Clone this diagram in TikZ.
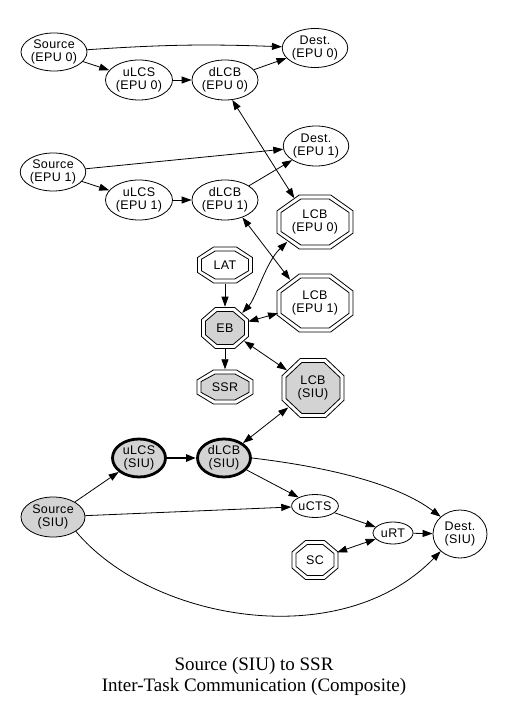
\documentclass[tikz,border=0pt]{standalone}
\usepackage{fontspec}
\newfontfamily\nf[LetterSpace=3]{Liberation Sans}
\newfontfamily\tf{Liberation Serif}
\usetikzlibrary{shapes.geometric,arrows.meta}
\definecolor{lg}{RGB}{211,211,211}
\tikzset{
  base/.style={ellipse, inner sep=0pt, align=center, font={\nf\fontsize{12.5}{13.5}\selectfont}},
  ell/.style={base, draw, line width=0.8pt},
  thickell/.style={base, draw, line width=2.8pt, fill=lg},
  tip/.style={Triangle[length=10pt,width=7pt]},
  arr/.style={line width=0.8pt, -{Triangle[length=10pt,width=7pt]}},
  barr/.style={line width=0.8pt, {Triangle[length=10pt,width=7pt]}-{Triangle[length=10pt,width=7pt]}},
  octline/.style={line width=0.8pt}
}
\newcommand\octnode[6]{% name, x,y, half width, half height, inner fill, text
  \draw[octline,fill=white,shift={(#2)}] (#3,0.4142*#4) -- (0.4142*#3,#4) -- (-0.4142*#3,#4) -- (-#3,0.4142*#4) -- (-#3,-0.4142*#4) -- (-0.4142*#3,-#4) -- (0.4142*#3,-#4) -- (#3,-0.4142*#4) -- cycle;
  \pgfmathsetmacro\ihw{#3-4}\pgfmathsetmacro\ihh{#4-4}
  \draw[octline,fill=#5,shift={(#2)}] (\ihw,0.4142*\ihh) -- (0.4142*\ihw,\ihh) -- (-0.4142*\ihw,\ihh) -- (-\ihw,0.4142*\ihh) -- (-\ihw,-0.4142*\ihh) -- (-0.4142*\ihw,-\ihh) -- (0.4142*\ihw,-\ihh) -- (\ihw,-0.4142*\ihh) -- cycle;
  \node[base, minimum width={2.06*#3}, minimum height={2.06*#4}] (#1) at (#2) {#6};
}
\begin{document}
\begin{tikzpicture}[x=1pt,y=-1pt]
\fill[white] (0,0) rectangle (505,708);
\useasboundingbox (0,0) rectangle (505,708);

% ellipses, EPU 0 / EPU 1
\node[ell, minimum width=66pt, minimum height=38pt] (srcE0) at (54,52) {Source\\(EPU 0)};
\node[ell, minimum width=65pt, minimum height=39pt] (dstE0) at (315,48) {Dest.\\(EPU 0)};
\node[ell, minimum width=67pt, minimum height=40pt] (ulcsE0) at (139,80) {uLCS\\(EPU 0)};
\node[ell, minimum width=66pt, minimum height=40pt] (dlcbE0) at (225,80) {dLCB\\(EPU 0)};
\node[ell, minimum width=65pt, minimum height=40pt] (dstE1) at (316,146) {Dest.\\(EPU 1)};
\node[ell, minimum width=64pt, minimum height=38pt] (srcE1) at (53,172) {Source\\(EPU 1)};
\node[ell, minimum width=67pt, minimum height=40pt] (ulcsE1) at (139,200) {uLCS\\(EPU 1)};
\node[ell, minimum width=66pt, minimum height=40pt] (dlcbE1) at (225,200) {dLCB\\(EPU 1)};

% octagons
\octnode{lcbE0}{315,222}{38}{27}{white}{LCB\\(EPU 0)}
\octnode{lat}{225,265}{27.5}{18}{white}{LAT}
\octnode{lcbE1}{315,303}{38}{29}{white}{LCB\\(EPU 1)}
\octnode{eb}{225,328}{23.5}{20.5}{lg}{EB}
\octnode{ssr}{225,387}{28}{17}{lg}{SSR}
\octnode{lcbSIU}{313,388}{31}{29.5}{lg}{LCB\\(SIU)}
\octnode{sc}{315,560}{23}{19.5}{white}{SC}

% SIU part
\node[thickell, minimum width=53pt, minimum height=38pt] (ulcsSIU) at (139,458) {uLCS\\(SIU)};
\node[thickell, minimum width=53pt, minimum height=38pt] (dlcbSIU) at (224,458) {dLCB\\(SIU)};
\node[ell, fill=lg, minimum width=64pt, minimum height=40pt] (srcSIU) at (53,517) {Source\\(SIU)};
\node[ell, minimum width=46pt, minimum height=23pt] (ucts) at (315,506) {uCTS};
\node[ell, minimum width=40pt, minimum height=22pt] (urt) at (393,533) {uRT};
\node[ell, minimum width=54pt, minimum height=48pt] (dstSIU) at (460,534) {Dest.\\(SIU)};

% title
\node[font={\tf\fontsize{19}{21}\selectfont}, align=center, inner sep=0pt] (title) at (254,676) {Source (SIU) to SSR\\Inter-Task Communication (Composite)};

% edges top
\draw[arr] (srcE0) to[bend left=3] (dstE0);
\draw[arr] (srcE0) -- (ulcsE0);
\draw[arr] (ulcsE0) -- (dlcbE0);
\draw[arr] (dlcbE0) -- (dstE0);
\draw[barr] (dlcbE0.-70) -- (lcbE0.131);
\draw[arr] (srcE1) -- (dstE1);
\draw[arr] (srcE1) -- (ulcsE1);
\draw[arr] (ulcsE1) -- (dlcbE1);
\draw[arr] (dlcbE1) -- (dstE1);
\draw[barr] (dlcbE1.-45) -- (lcbE1.137);

% middle
\draw[arr] (lat) -- (eb);
\draw[arr] (eb) -- (ssr);
\draw[barr] (eb.north east) .. controls (256,298) and (266,262) .. (lcbE0.south west);
\draw[barr] (eb) -- (lcbE1);
\draw[barr] (eb) -- (lcbSIU);
\draw[barr] (lcbSIU) -- (dlcbSIU);

% bottom
\draw[arr] (srcSIU) -- (ulcsSIU);
\draw[line width=2.8pt, -{Triangle[length=10pt,width=7pt]}] (ulcsSIU) -- (dlcbSIU);
\draw[arr] (dlcbSIU) -- (ucts);
\draw[arr] (dlcbSIU.east) .. controls (320,466) and (395,482) .. (dstSIU.north west);
\draw[arr] (srcSIU) -- (ucts);
\draw[arr] (ucts) -- (urt);
\draw[arr] (urt) -- (dstSIU);
\draw[barr] (sc) -- (urt);
\draw[arr] (srcSIU.south east) .. controls (150,620) and (340,655) .. (dstSIU.south west);
\end{tikzpicture}
\end{document}
